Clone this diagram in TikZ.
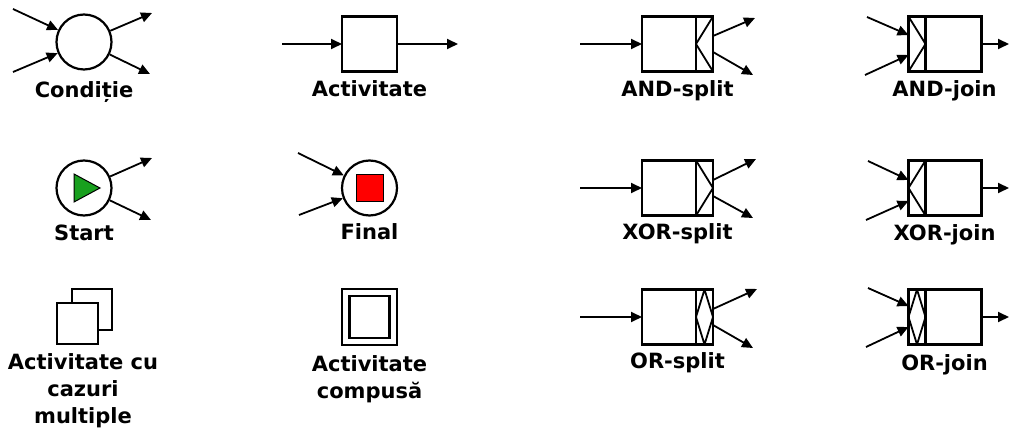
\documentclass[tikz,border=0pt]{standalone}
\usepackage{fontspec}
\setmainfont{DejaVu Sans}
\usetikzlibrary{arrows.meta, positioning}

\definecolor{startgreen}{RGB}{24,160,30}

\begin{document}
\begin{tikzpicture}[
    x=1pt, y=-1pt,
    >={Triangle[length=11pt,width=10pt]},
    place/.style={circle, draw, line width=2.2pt, minimum size=55pt, inner sep=0pt},
    task/.style={rectangle, draw, fill=white, line width=2.2pt, minimum width=#1, minimum height=55pt, inner sep=0pt, outer sep=0pt},
    task/.default=55pt,
    gate/.style={rectangle, draw, line width=2.2pt, minimum width=17pt, minimum height=55pt, inner sep=0pt, outer sep=0pt},
    glyph/.style={line width=1.8pt, line join=round},
    lbl/.style={font=\fontsize{21}{27}\selectfont\bfseries, align=center, inner sep=0pt},
    arr/.style={->, line width=1.8pt},
]
\useasboundingbox (0,0) rectangle (1011,430);

% ── Conditie ──
\node[place] (cond) at (84,42) {};
\coordinate (cond-i1) at (13,9);
\coordinate (cond-i2) at (13,72);
\coordinate (cond-o1) at (152,13);
\coordinate (cond-o2) at (150,74);
\node[lbl, below=11pt of cond] (cond-lbl) {Condiție};

% ── Activitate ──
\node[task] (act) at (369.5,44) {};
\coordinate (act-in) at (282,44);
\coordinate (act-out) at (458,44);
\node[lbl, below=9pt of act] (act-lbl) {Activitate};

% ── Start / Final ──
\node[place] (start) at (84,188) {};
\coordinate (start-o1) at (152,158);
\coordinate (start-o2) at (151,220);
\draw[fill=startgreen, line width=1pt, line join=miter]
    ([shift={(-10,-14)}]start.center) -- ([shift={(-10,14)}]start.center) -- ([shift={(16,0)}]start.center) -- cycle;
\node[lbl, below=8pt of start] (start-lbl) {Start};

\node[place] (final) at (369.5,188) {};
\node[draw, fill=red, line width=1pt, minimum size=27pt, inner sep=0pt] (final-sq) at (final) {};
\coordinate (final-i1) at (298,153);
\coordinate (final-i2) at (299,215);
\node[lbl, below=7pt of final] (final-lbl) {Final};

% ── Multiple instances / composite ──
\node[task=40pt, minimum height=41pt] (multi-back) at (92,309.5) {};
\node[task=41pt, minimum height=41pt] (multi) at (77.5,323.5) {};
\node[lbl, below=9.5pt of multi, xshift=5.5pt] (multi-lbl) {Activitate cu\\cazuri\\multiple};

\node[task=55pt, minimum height=56pt] (comp) at (369.5,317) {};
\node[draw, line width=2.2pt, minimum width=40pt, minimum height=42pt, inner sep=0pt] (comp-in) at (comp) {};
\node[lbl, below=10pt of comp] (comp-lbl) {Activitate\\compusă};

% ── Splits ──
\node[task=54pt] (andsplit) at (669,44) {};
\node[gate, right=0pt of andsplit] (andsplit-g) {};
\draw[glyph] (andsplit-g.north east) -- (andsplit-g.west) -- (andsplit-g.south east);
\coordinate (andsplit-in) at (580,44);
\coordinate (andsplit-o1) at (755,18);
\coordinate (andsplit-o2) at (753,75);
\node[lbl, below=9pt of andsplit, xshift=8.5pt] (andsplit-lbl) {AND-split};

\node[task=54pt] (xorsplit) at (669,188) {};
\node[gate, right=0pt of xorsplit] (xorsplit-g) {};
\draw[glyph] (xorsplit-g.north west) -- (xorsplit-g.east) -- (xorsplit-g.south west);
\coordinate (xorsplit-in) at (580,188);
\coordinate (xorsplit-o1) at (756,159);
\coordinate (xorsplit-o2) at (753,218);
\node[lbl, below=8pt of xorsplit, xshift=8.5pt] (xorsplit-lbl) {XOR-split};

\node[task=54pt] (orsplit) at (669,317) {};
\node[gate, right=0pt of orsplit] (orsplit-g) {};
\draw[glyph] (orsplit-g.north) -- (orsplit-g.west) -- (orsplit-g.south) -- (orsplit-g.east) -- cycle;
\coordinate (orsplit-in) at (580,317);
\coordinate (orsplit-o1) at (757,289);
\coordinate (orsplit-o2) at (753,348);
\node[lbl, below=7.5pt of orsplit, xshift=8.5pt] (orsplit-lbl) {OR-split};

% ── Joins ──
\node[gate] (andjoin-g) at (917,44) {};
\node[task=56pt, right=0pt of andjoin-g] (andjoin) {};
\draw[glyph] (andjoin-g.north west) -- (andjoin-g.east) -- (andjoin-g.south west);
\coordinate (andjoin-i1) at (867,17);
\coordinate (andjoin-i2) at (865,75);
\coordinate (andjoin-out) at (1009,44);
\node[lbl, below=9pt of andjoin, xshift=-9pt] (andjoin-lbl) {AND-join};

\node[gate] (xorjoin-g) at (917,188) {};
\node[task=56pt, right=0pt of xorjoin-g] (xorjoin) {};
\draw[glyph] (xorjoin-g.north east) -- (xorjoin-g.west) -- (xorjoin-g.south east);
\coordinate (xorjoin-i1) at (868,161);
\coordinate (xorjoin-i2) at (866,220);
\coordinate (xorjoin-out) at (1009,188);
\node[lbl, below=8.5pt of xorjoin, xshift=-9pt] (xorjoin-lbl) {XOR-join};

\node[gate] (orjoin-g) at (917,317) {};
\node[task=56pt, right=0pt of orjoin-g] (orjoin) {};
\draw[glyph] (orjoin-g.north) -- (orjoin-g.west) -- (orjoin-g.south) -- (orjoin-g.east) -- cycle;
\coordinate (orjoin-i1) at (868,288);
\coordinate (orjoin-i2) at (866,347);
\coordinate (orjoin-out) at (1009,317);
\node[lbl, below=9.5pt of orjoin, xshift=-9pt] (orjoin-lbl) {OR-join};

% ── Arrows ──
\draw[arr] (cond-i1) -- (cond);
\draw[arr] (cond-i2) -- (cond);
\draw[arr] (cond) -- (cond-o1);
\draw[arr] (cond) -- (cond-o2);
\draw[arr] (act-in) -- (act);
\draw[arr] (act) -- (act-out);
\draw[arr] (start) -- (start-o1);
\draw[arr] (start) -- (start-o2);
\draw[arr] (final-i1) -- (final);
\draw[arr] (final-i2) -- (final);

\draw[arr] (andsplit-in) -- (andsplit);
\draw[arr] ([yshift=8pt]andsplit-g.east) -- (andsplit-o1);
\draw[arr] ([yshift=-8pt]andsplit-g.east) -- (andsplit-o2);
\draw[arr] (xorsplit-in) -- (xorsplit);
\draw[arr] ([yshift=8pt]xorsplit-g.east) -- (xorsplit-o1);
\draw[arr] ([yshift=-8pt]xorsplit-g.east) -- (xorsplit-o2);
\draw[arr] (orsplit-in) -- (orsplit);
\draw[arr] ([yshift=8pt]orsplit-g.east) -- (orsplit-o1);
\draw[arr] ([yshift=-8pt]orsplit-g.east) -- (orsplit-o2);

\draw[arr] (andjoin-i1) -- ([yshift=9pt]andjoin-g.west);
\draw[arr] (andjoin-i2) -- ([yshift=-11pt]andjoin-g.west);
\draw[arr] (andjoin) -- (andjoin-out);
\draw[arr] (xorjoin-i1) -- ([yshift=8pt]xorjoin-g.west);
\draw[arr] (xorjoin-i2) -- ([yshift=-13pt]xorjoin-g.west);
\draw[arr] (xorjoin) -- (xorjoin-out);
\draw[arr] (orjoin-i1) -- ([yshift=11pt]orjoin-g.west);
\draw[arr] (orjoin-i2) -- ([yshift=-10pt]orjoin-g.west);
\draw[arr] (orjoin) -- (orjoin-out);

\end{tikzpicture}
\end{document}
